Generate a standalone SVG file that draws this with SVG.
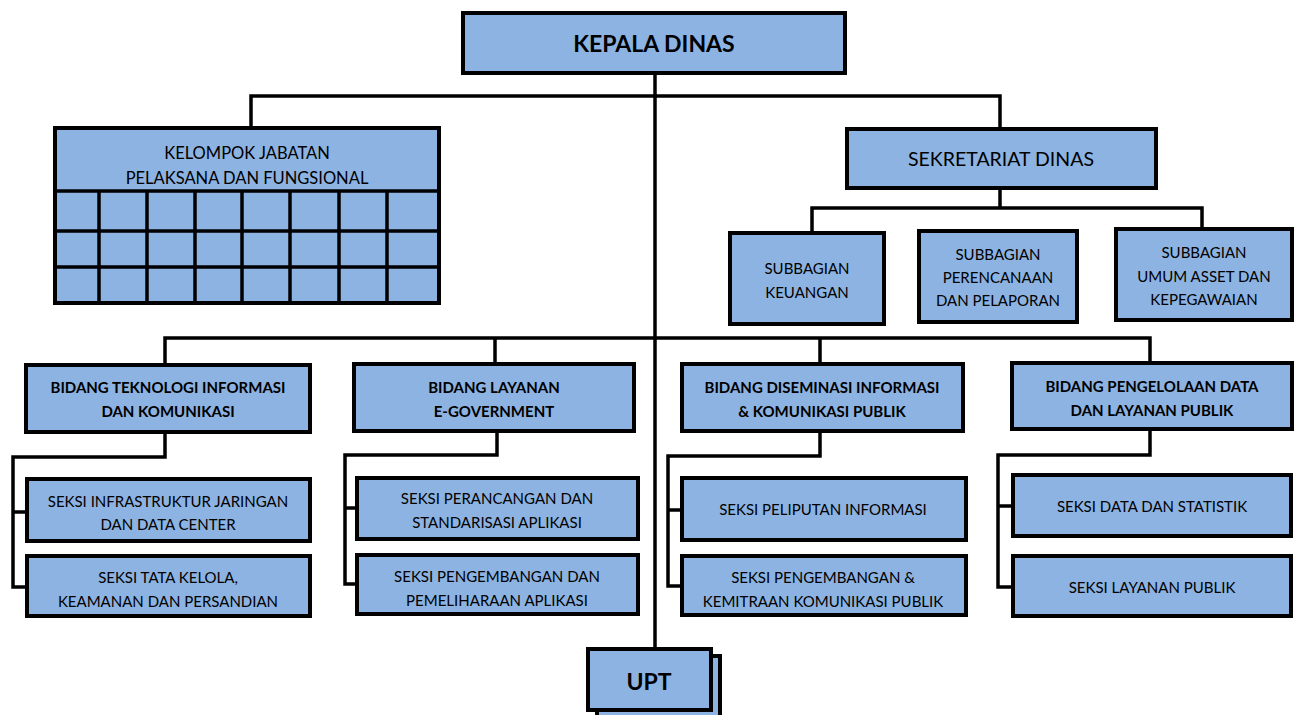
<svg xmlns="http://www.w3.org/2000/svg" width="1301" height="715" viewBox="0 0 1301 715">
<style>
.box{fill:#8DB3E2;stroke:#000;stroke-width:4}
.ln{fill:none;stroke:#000;stroke-width:3.5;stroke-linejoin:miter}
text{font-family:Lato,"Open Sans","Liberation Sans",sans-serif;fill:#000;text-anchor:middle;dominant-baseline:central}
.t15{font-size:15px}
.b15{font-size:15px;font-weight:bold}
</style>
<rect width="1301" height="715" fill="#fff"/>
<g id="connectors">
<path class="ln" d="M655,73 V650"/>
<path class="ln" d="M251,128 V96 H1000 V128"/>
<path class="ln" d="M1000,188 V208 M812,232 V208 H1202 V230"/>
<path class="ln" d="M165,365 V338 H1150 V363 M495,338 V364 M820,338 V364"/>
<path class="ln" d="M165,431 V457 H13 V587 H26 M13,512 H26"/>
<path class="ln" d="M497,431 V455 H345 V584 H357 M345,508 H357"/>
<path class="ln" d="M820,431 V456 H668 V586 H681 M668,510 H681"/>
<path class="ln" d="M1150,429 V455 H998 V587 H1012 M998,506 H1012"/>
</g>
<g id="kepala-dinas">
<rect class="box" x="463" y="13" width="382" height="60"/>
<text x="654" y="43" style="font-size:23px;font-weight:bold">KEPALA DINAS</text>
</g>
<g id="kelompok-jabatan">
<rect class="box" x="55" y="128" width="384" height="175"/>
<path class="ln" stroke-width="4" d="M55,191 H439 M55,231 H439 M55,267 H439 M99,191 V303 M147,191 V303 M195,191 V303 M242,191 V303 M290,191 V303 M339,191 V303 M387,191 V303"/>
<text x="247" y="153" style="font-size:16.5px">KELOMPOK JABATAN</text>
<text x="247" y="178" style="font-size:16.5px">PELAKSANA DAN FUNGSIONAL</text>
</g>
<g id="sekretariat">
<rect class="box" x="847" y="129" width="309" height="59"/>
<text x="1001" y="158" style="font-size:19.5px">SEKRETARIAT DINAS</text>
</g>
<g id="subbag-keuangan">
<rect class="box" x="730" y="233" width="154" height="91"/>
<text class="t15" x="807" y="268">SUBBAGIAN</text>
<text class="t15" x="807" y="292">KEUANGAN</text>
</g>
<g id="subbag-perencanaan">
<rect class="box" x="919" y="231" width="158" height="91"/>
<text class="t15" x="998" y="254">SUBBAGIAN</text>
<text class="t15" x="998" y="277">PERENCANAAN</text>
<text class="t15" x="998" y="300">DAN PELAPORAN</text>
</g>
<g id="subbag-umum">
<rect class="box" x="1116" y="229" width="176" height="91"/>
<text class="t15" x="1204" y="252">SUBBAGIAN</text>
<text class="t15" x="1204" y="276">UMUM ASSET DAN</text>
<text class="t15" x="1204" y="299">KEPEGAWAIAN</text>
</g>
<g id="bidang-tik">
<rect class="box" x="26" y="365" width="284" height="67"/>
<text class="b15" x="168" y="387">BIDANG TEKNOLOGI INFORMASI</text>
<text class="b15" x="168" y="411">DAN KOMUNIKASI</text>
</g>
<g id="bidang-layanan">
<rect class="box" x="354" y="364" width="280" height="67"/>
<text class="b15" x="494" y="387">BIDANG LAYANAN</text>
<text class="b15" x="494" y="411">E-GOVERNMENT</text>
</g>
<g id="bidang-diseminasi">
<rect class="box" x="682" y="364" width="281" height="67"/>
<text class="b15" x="822" y="387">BIDANG DISEMINASI INFORMASI</text>
<text class="b15" x="822" y="411">&amp; KOMUNIKASI PUBLIK</text>
</g>
<g id="bidang-pengelolaan">
<rect class="box" x="1012" y="363" width="280" height="66"/>
<text class="b15" x="1152" y="386">BIDANG PENGELOLAAN DATA</text>
<text class="b15" x="1152" y="410">DAN LAYANAN PUBLIK</text>
</g>
<g id="seksi-infrastruktur">
<rect class="box" x="27" y="479" width="283" height="62"/>
<text class="t15" x="168" y="501">SEKSI INFRASTRUKTUR JARINGAN</text>
<text class="t15" x="168" y="524">DAN DATA CENTER</text>
</g>
<g id="seksi-tata-kelola">
<rect class="box" x="27" y="556" width="283" height="60"/>
<text class="t15" x="168" y="577">SEKSI TATA KELOLA,</text>
<text class="t15" x="168" y="601">KEAMANAN DAN PERSANDIAN</text>
</g>
<g id="seksi-perancangan">
<rect class="box" x="357" y="478" width="281" height="61"/>
<text class="t15" x="497" y="498">SEKSI PERANCANGAN DAN</text>
<text class="t15" x="497" y="522">STANDARISASI APLIKASI</text>
</g>
<g id="seksi-pengembangan-aplikasi">
<rect class="box" x="357" y="555" width="281" height="59"/>
<text class="t15" x="497" y="576">SEKSI PENGEMBANGAN DAN</text>
<text class="t15" x="497" y="600">PEMELIHARAAN APLIKASI</text>
</g>
<g id="seksi-peliputan">
<rect class="box" x="682" y="478" width="284" height="62"/>
<text class="t15" x="823" y="509">SEKSI PELIPUTAN INFORMASI</text>
</g>
<g id="seksi-kemitraan">
<rect class="box" x="682" y="556" width="284" height="59"/>
<text class="t15" x="823" y="577">SEKSI PENGEMBANGAN &amp;</text>
<text class="t15" x="823" y="601">KEMITRAAN KOMUNIKASI PUBLIK</text>
</g>
<g id="seksi-data">
<rect class="box" x="1013" y="475" width="278" height="61"/>
<text class="t15" x="1152" y="506">SEKSI DATA DAN STATISTIK</text>
</g>
<g id="seksi-layanan-publik">
<rect class="box" x="1013" y="556" width="278" height="60"/>
<text class="t15" x="1152" y="587">SEKSI LAYANAN PUBLIK</text>
</g>
<g id="upt">
<rect class="box" x="597" y="656" width="123" height="64"/>
<rect class="box" x="588" y="649" width="123" height="61"/>
<text x="649" y="681" style="font-size:23px;font-weight:bold">UPT</text>
</g>
</svg>
